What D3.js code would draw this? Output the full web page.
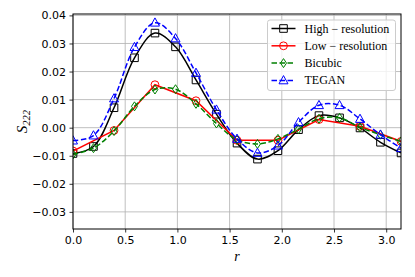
<!DOCTYPE html>
<html>
<head>
<meta charset="utf-8">
<script src="https://cdn.jsdelivr.net/npm/d3@7"></script>
<style>
  html, body { margin: 0; padding: 0; background: #fff; }
  #d3chart { width: 415px; height: 277px; }
</style>
</head>
<body>
<div id="d3chart"></div>
<script>
// Sample positions (r) and values
const rFine = [0, 0.196, 0.393, 0.589, 0.785, 0.982, 1.178, 1.374, 1.571, 1.767, 1.963, 2.160, 2.356, 2.553, 2.749, 2.945, 3.142]
const rCoarse = [0, 0.393, 0.785, 1.178, 1.571, 1.963, 2.356, 2.749, 3.142]

const highRes = [-0.0092, -0.0067, 0.0071, 0.0249, 0.0337, 0.0288, 0.0170, 0.0048, -0.0055, -0.0112, -0.0082, -0.0007, 0.0043, 0.0035, -0.0001, -0.0052, -0.0090]
const lowRes = [-0.0083, -0.0010, 0.0153, 0.0096, -0.0045, -0.0045, 0.0029, 0.0005, -0.0049]
const bicubic = [-0.0095, -0.0073, -0.0012, 0.0076, 0.0136, 0.0137, 0.0085, 0.0015, -0.0043, -0.0058, -0.0040, -0.0005, 0.0032, 0.0035, 0.0001, -0.0025, -0.0049]
const tegan = [-0.0046, -0.0028, 0.0104, 0.0287, 0.0374, 0.0318, 0.0195, 0.0064, -0.0040, -0.0090, -0.0064, 0.0019, 0.0080, 0.0080, 0.0031, -0.0025, -0.0073]

const seriesNames = ['High \u2212 resolution', 'Low \u2212 resolution', 'Bicubic', 'TEGAN']
const xTicks = [0, 0.5, 1.0, 1.5, 2.0, 2.5, 3.0]
const yTicks = [-0.03, -0.02, -0.01, 0.00, 0.01, 0.02, 0.03, 0.04]

class D3Chart {
  constructor () {
    this.series = [
      { name: seriesNames[0], r: rFine, v: highRes, color: '#000000', dash: null, marker: 'square', curve: d3.curveCatmullRom },
      { name: seriesNames[1], r: rCoarse, v: lowRes, color: '#ff0000', dash: null, marker: 'circle', curve: d3.curveLinear },
      { name: seriesNames[2], r: rFine, v: bicubic, color: '#008000', dash: '5.5,2.5', marker: 'diamond', curve: d3.curveCatmullRom },
      { name: seriesNames[3], r: rFine, v: tegan, color: '#0000ff', dash: '5.5,2.5', marker: 'triangle', curve: d3.curveCatmullRom }
    ]
    this.drawChart()
  }

  drawChart () {
    this.chartWidth = 415
    this.chartHeight = 277
    this.chartMargin = { top: 14, right: 14, bottom: 48, left: 73 }

    this.chartSVG = d3.select('#d3chart')
      .append('svg')
      .attr('width', this.chartWidth)
      .attr('height', this.chartHeight)
      .style('font-family', '"DejaVu Sans", sans-serif')

    this.createScales()
    this.addGridLines()
    this.addDataVisuals()
    this.addAxes()
    this.addLegend()
  }

  createScales () {
    const m = this.chartMargin
    this.xScale = d3.scaleLinear().domain([0, 3.1416]).range([m.left, this.chartWidth - m.right])
    this.yScale = d3.scaleLinear().domain([-0.0361, 0.0405]).range([this.chartHeight - m.bottom, m.top])
  }

  addGridLines () {
    const [x0, x1] = this.xScale.range()
    const [y0, y1] = this.yScale.range()
    const g = this.chartSVG.append('g').attr('class', 'grid')
    g.selectAll('.gx').data(xTicks).join('line')
      .attr('x1', d => this.xScale(d)).attr('x2', d => this.xScale(d))
      .attr('y1', y0).attr('y2', y1)
      .attr('stroke', '#b0b0b0').attr('stroke-width', 0.8)
    g.selectAll('.gy').data(yTicks).join('line')
      .attr('x1', x0).attr('x2', x1)
      .attr('y1', d => this.yScale(d)).attr('y2', d => this.yScale(d))
      .attr('stroke', '#b0b0b0').attr('stroke-width', 0.8)
  }

  drawMarker (sel, type, color) {
    sel.attr('fill', 'none').attr('stroke', color).attr('stroke-width', 1)
    if (type === 'square') sel.attr('d', 'M-3.8,-3.8H3.8V3.8H-3.8Z')
    if (type === 'circle') sel.attr('d', d3.symbol(d3.symbolCircle, 48)())
    if (type === 'diamond') sel.attr('d', 'M0,-4.5L3,0L0,4.5L-3,0Z')
    if (type === 'triangle') sel.attr('d', 'M0,-4.8L4.5,3.4H-4.5Z')
  }

  addDataVisuals () {
    const clipId = 'plotclip'
    const [x0, x1] = this.xScale.range()
    const [y0, y1] = this.yScale.range()
    this.chartSVG.append('clipPath').attr('id', clipId)
      .append('rect').attr('x', x0).attr('y', y1).attr('width', x1 - x0).attr('height', y0 - y1)

    const plot = this.chartSVG.append('g').attr('clip-path', `url(#${clipId})`)
    this.series.forEach(s => {
      const pts = s.r.map((r, i) => [r, s.v[i]])
      const line = d3.line().x(d => this.xScale(d[0])).y(d => this.yScale(d[1])).curve(s.curve)
      plot.append('path').datum(pts)
        .attr('d', line)
        .attr('fill', 'none')
        .attr('stroke', s.color)
        .attr('stroke-width', 1.5)
        .attr('stroke-dasharray', s.dash)
      plot.selectAll(null).data(pts).join('path')
        .attr('transform', d => `translate(${this.xScale(d[0])},${this.yScale(d[1])})`)
        .call(sel => this.drawMarker(sel, s.marker, s.color))
    })
  }

  addAxes () {
    const [x0, x1] = this.xScale.range()
    const [y0, y1] = this.yScale.range()
    const xAxis = d3.axisBottom(this.xScale).tickValues(xTicks).tickFormat(d3.format('.1f')).tickSizeOuter(0).tickSize(3.5).tickPadding(3.5)
    const yAxis = d3.axisLeft(this.yScale).tickValues(yTicks).tickFormat(d3.format('.2f')).tickSizeOuter(0).tickSize(3.5).tickPadding(3.5)

    const gx = this.chartSVG.append('g').attr('transform', `translate(0,${y0})`).call(xAxis)
    const gy = this.chartSVG.append('g').attr('transform', `translate(${x0},0)`).call(yAxis)
    ;[gx, gy].forEach(g => {
      g.select('.domain').remove()
      g.selectAll('text').attr('font-size', 11).attr('font-family', '"DejaVu Sans", sans-serif').attr('fill', '#000')
      g.selectAll('line').attr('stroke', '#000').attr('stroke-width', 0.8)
    })

    this.chartSVG.append('rect')
      .attr('x', x0).attr('y', y1).attr('width', x1 - x0).attr('height', y0 - y1)
      .attr('fill', 'none').attr('stroke', '#000').attr('stroke-width', 1)

    this.chartSVG.append('text')
      .attr('x', (x0 + x1) / 2).attr('y', 261)
      .attr('text-anchor', 'middle')
      .attr('font-family', '"Liberation Serif", serif').attr('font-style', 'italic').attr('font-size', 14)
      .text('r')

    const yl = this.chartSVG.append('text')
      .attr('transform', `translate(27,${(y0 + y1) / 2}) rotate(-90)`)
      .attr('text-anchor', 'middle')
      .attr('font-family', '"Liberation Serif", serif').attr('font-style', 'italic').attr('font-size', 15)
    yl.append('tspan').text('S')
    yl.append('tspan').attr('font-size', 10.5).attr('dy', 3).text('222')
  }

  addLegend () {
    const lx = 267.5
    const ly = 20
    const g = this.chartSVG.append('g').attr('transform', `translate(${lx},${ly})`)
    g.append('rect').attr('width', 128).attr('height', 70.5).attr('rx', 2.5)
      .attr('fill', '#fff').attr('fill-opacity', 0.8).attr('stroke', '#cccccc').attr('stroke-width', 1)
    this.series.forEach((s, i) => {
      const y = 8.5 + i * 17.3
      g.append('line').attr('x1', 4).attr('x2', 28).attr('y1', y).attr('y2', y)
        .attr('stroke', s.color).attr('stroke-width', 1.5).attr('stroke-dasharray', s.dash)
      g.append('path').attr('transform', `translate(16,${y})`).call(sel => this.drawMarker(sel, s.marker, s.color))
      g.append('text').attr('x', 37).attr('y', y + 4)
        .attr('font-family', '"Liberation Serif", serif').attr('font-size', 12).attr('fill', '#000')
        .text(s.name)
    })
  }
}

new D3Chart()
</script>
</body>
</html>
